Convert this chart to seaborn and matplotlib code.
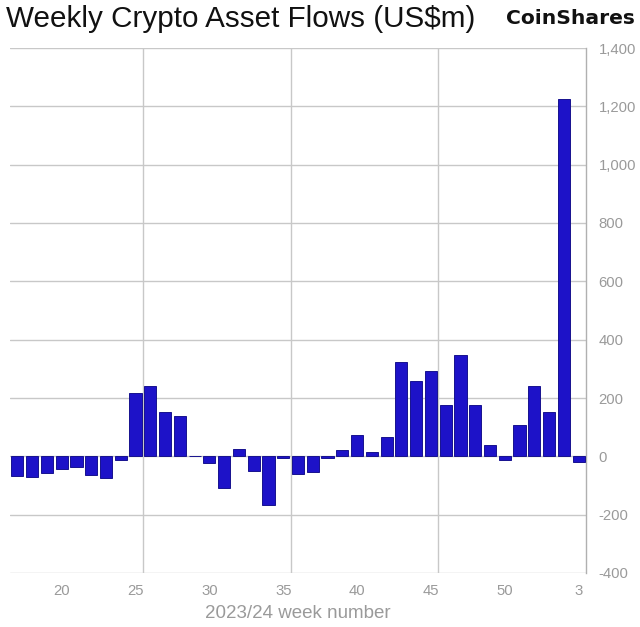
import matplotlib
matplotlib.use("Agg")
import matplotlib.pyplot as plt
import seaborn as sns
import pandas as pd
from matplotlib.ticker import FuncFormatter

weeks = [str(w) for w in range(17, 53)] + ["1", "2", "3"]
flows = [-66, -71, -58, -42, -38, -64, -73, -13, 217, 242, 153, 139,
         0, -23, -107, 24, -49, -167, -4, -60, -55,
         -7, 22, 74, 14, 65, 324, 260, 291, 175, 346, 175, 40, -13,
         107, 241, 153, 1225, -21]
tick_weeks = ["20", "25", "30", "35", "40", "45", "50", "3"]
grid_after_weeks = ["25", "35", "45"]
y_ticks = list(range(-400, 1401, 200))

df = pd.DataFrame({"week": weeks, "flow": flows})

sns.set_theme(style="white")
plt.rcParams["font.family"] = ["Liberation Sans", "DejaVu Sans"]

fig = plt.figure(figsize=(6.4, 6.27), dpi=100)
ax = fig.add_axes([10 / 640, 1 - 573 / 627, 576 / 640, 525 / 627])

sns.barplot(data=df, x="week", y="flow", order=weeks, color="#1d12c8",
            saturation=1, width=0.82, edgecolor="#17128f", linewidth=0.7,
            ax=ax, zorder=3)

ax.set_xlim(-0.5, len(weeks) - 0.5)
ax.set_ylim(-400, 1400)

for yv in y_ticks:
    ax.axhline(yv, color="#c8c8c8", linewidth=1.0, zorder=1)
for w in grid_after_weeks:
    ax.axvline(weeks.index(w) + 0.5, color="#c8c8c8", linewidth=1.0, zorder=1)

for s in ["left", "top", "bottom"]:
    ax.spines[s].set_visible(False)
ax.spines["right"].set_color("#b0b0b0")
ax.spines["right"].set_linewidth(1.0)

ax.yaxis.tick_right()
ax.set_yticks(y_ticks)
ax.yaxis.set_major_formatter(FuncFormatter(lambda v, p: f"{int(v):,}"))
ax.tick_params(axis="y", length=0, pad=9, labelsize=10.7, labelcolor="#9a9a9a")

ax.set_xticks([weeks.index(w) for w in tick_weeks])
ax.set_xticklabels(tick_weeks)
ax.tick_params(axis="x", length=0, pad=8, labelsize=10.7, labelcolor="#9a9a9a")

ax.set_xlabel("2023/24 week number", fontsize=13.5, color="#9a9a9a", labelpad=5)
ax.set_ylabel("")

fig.text(6 / 640, 1 - 27 / 627, "Weekly Crypto Asset Flows (US$m)", fontsize=21.3,
         color="#111111", ha="left", va="baseline")
fig.text(635 / 640, 1 - 23.5 / 627, "CoinShares", fontsize=14.6, fontweight="bold",
         color="#111111", ha="right", va="baseline", family="DejaVu Sans")

fig.savefig("out.png", dpi=100)
